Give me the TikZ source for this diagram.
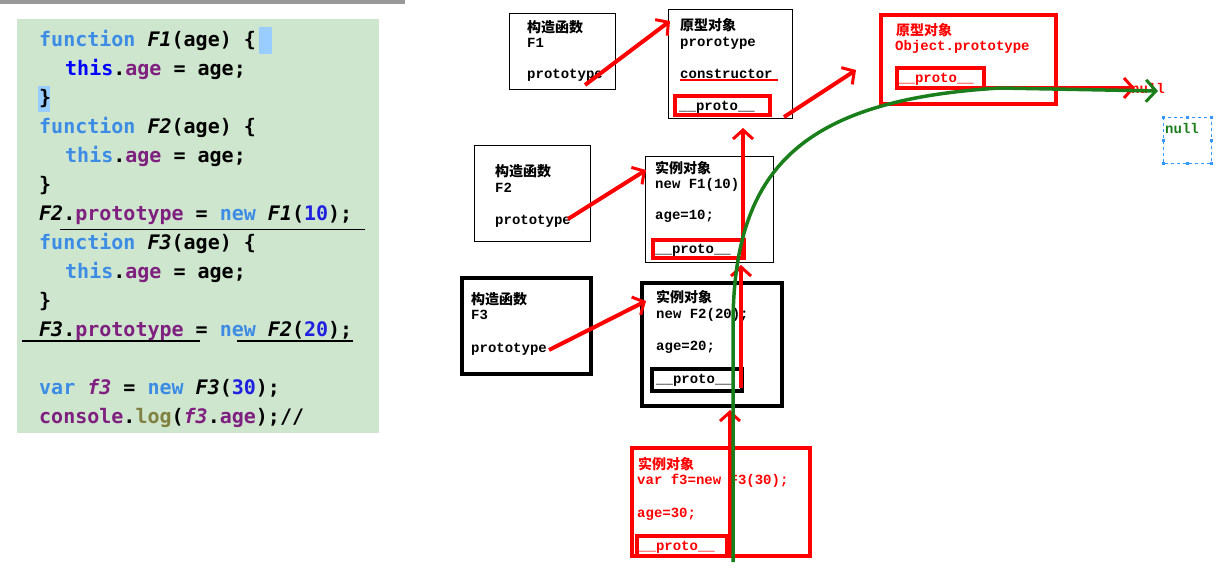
\documentclass[tikz,border=0pt]{standalone}
\usepackage{fontspec}
\setmonofont{DejaVu Sans Mono}
\newfontfamily\cjk{Noto Sans CJK SC}
\newfontfamily\lmono{Liberation Mono}
\usetikzlibrary{arrows.meta}
\definecolor{bgc}{HTML}{CDE6CD}
\definecolor{kw}{HTML}{3C8CE6}
\definecolor{pu}{HTML}{7F1F7F}
\definecolor{num}{HTML}{2020E0}
\definecolor{olv}{HTML}{808040}
\definecolor{grn}{HTML}{1A7F1A}
\definecolor{selb}{HTML}{3399FF}
\newcommand{\ckw}[1]{\textcolor{kw}{#1}}
\newcommand{\cpu}[1]{\textcolor{pu}{#1}}
\newcommand{\cnum}[1]{\textcolor{num}{#1}}
\begin{document}
\begin{tikzpicture}[x=1pt,y=-1pt,
  code/.style={anchor=base west,inner sep=0,font=\ttfamily\bfseries\fontsize{20}{20}\selectfont},
  cn/.style={anchor=base west,inner sep=0,font=\cjk\bfseries\fontsize{14}{14}\selectfont},
  mn/.style={anchor=base west,inner sep=0,font=\lmono\bfseries\fontsize{14}{14}\selectfont},
  thin box/.style={draw=black,line width=1pt},
  thick box/.style={draw=black,line width=3.5pt},
  red box/.style={draw=red,line width=3.5pt},
  rarr/.style={draw=red,line width=4pt,-{Straight Barb[length=9pt,width=20pt,line width=3pt]}},
  garr/.style={draw=grn,line width=3.5pt,-{Straight Barb[length=10pt,width=22pt,line width=3pt]}}]
\useasboundingbox (0,0) rectangle (1228,571);
\fill[white] (0,0) rectangle (1228,571);
\fill[black!40] (0,0) rectangle (405,4);
% code panel
\fill[bgc] (17,19) rectangle (379,433);
\fill[selb!50] (259,27) rectangle (272,54);
\fill[selb!50] (38,86) rectangle (50,112);
\node[code] (c1) at (39,46) {\ckw{function} \textit{F1}(age) \{};
\node[code] (c2) at (65,75) {\textcolor{blue}{this}.\cpu{age} = age;};
\node[code] (c3) at (39,104) {\}};
\node[code] (c4) at (39,133) {\ckw{function} \textit{F2}(age) \{};
\node[code] (c5) at (65,162) {\ckw{this}.\cpu{age} = age;};
\node[code] (c6) at (39,191) {\}};
\node[code] (c7) at (39,220) {\textit{F2}.\cpu{prototype} = \ckw{new} \textit{F1}(\cnum{10});};
\node[code] (c8) at (39,249) {\ckw{function} \textit{F3}(age) \{};
\node[code] (c9) at (65,278) {\ckw{this}.\cpu{age} = age;};
\node[code] (c10) at (39,307) {\}};
\node[code] (c11) at (39,336) {\textit{F3}.\cpu{prototype} = \ckw{new} \textit{F2}(\cnum{20});};
\node[code] (c12) at (39,394) {\ckw{var} \cpu{\textit{f3}} = \ckw{new} \textit{F3}(\cnum{30});};
\node[code] (c13) at (39,423) {\cpu{console}.\textcolor{olv}{log}(\cpu{\textit{f3}}.\cpu{age});//};
\draw[line width=1pt] (60,229) -- (365,229);
\draw[line width=2.5pt] (22,341) -- (200,341);
\draw[line width=2.5pt] (237,341) -- (353,341);
% boxes
\draw[thin box] (509,13) rectangle (615,89);
\node[cn] (a1) at (527,32) {构造函数};
\node[mn] at (527,47) {F1};
\node[mn] (p1) at (527,78) {prototype};
\draw[thin box] (668,9) rectangle (792,118);
\node[cn] (o1) at (680,30) {原型对象};
\node[mn] at (680,46) {prorotype};
\node[mn] at (680,78) {constructor};
\draw[red,line width=2.5pt] (680,80) -- (778,80);
\draw[red box] (675,96) rectangle (770,115);
\node[mn] (pp1) at (679,110) {\_\_proto\_\_};
\draw[thin box] (474,145) rectangle (590,241);
\node[cn] at (495,176) {构造函数};
\node[mn] at (495,192) {F2};
\node[mn] (p2) at (495,224) {prototype};
\draw[thin box] (645,156) rectangle (773,262);
\node[cn] (i1) at (655,173) {实例对象};
\node[mn] at (655,188) {new F1(10);};
\node[mn] at (655,219) {age=10;};
\draw[red box] (653,240) rectangle (744,258);
\node[mn] at (655,253) {\_\_proto\_\_};
\draw[thick box] (462,278) rectangle (591,374);
\node[cn] at (471,304) {构造函数};
\node[mn] at (471,319) {F3};
\node[mn] at (471,352) {prototype};
\draw[thick box] (642,283) rectangle (782,406);
\node[cn] at (656,302) {实例对象};
\node[mn] at (656,318) {new F2(20);};
\node[mn] at (656,350) {age=20;};
\draw[thick box] (652,369) rectangle (742,391);
\node[mn] at (656,383) {\_\_proto\_\_};
\draw[red box] (632,448) rectangle (810,556);
\node[cn,red] at (638,469) {实例对象};
\node[mn,red] at (637,484) {var f3=new F3(30);};
\node[mn,red] at (637,517) {age=30;};
\draw[red box] (637,536) rectangle (727,556);
\node[mn,red] at (639,550) {\_\_proto\_\_};
\draw[red box] (881,15) rectangle (1056,104);
\node[cn,red] at (896,35) {原型对象};
\node[mn,red] at (895,50) {Object.prototype};
\draw[red box] (897,68) rectangle (984,88);
\node[mn,red] at (898,82) {\_\_proto\_\_};
\node[mn,red] (nul) at (1131,93) {null};
\node[mn,grn] (nul2) at (1165,133) {null};
\draw[selb,dashed,line width=0.8pt] (1163,117) rectangle (1211,163);
\foreach \p in {(1163,117),(1187,117),(1211,117),(1163,140),(1211,140),(1163,163),(1187,163),(1211,163)}
  \fill[selb] \p ++(-1.5,-1.5) rectangle ++(3,3);
% red arrows
\draw[rarr] (585,85) -- (670,21);
\draw[rarr] (568,219) -- (646,170);
\draw[rarr] (549,350) -- (646,301);
\draw[rarr] (743,256) -- (743,128);
\draw[rarr] (741,388) -- (741,265);
\draw[rarr] (730,556) -- (730,410);
\draw[rarr] (784,117) -- (856,70);
\draw[rarr] (985,88) -- (1135,88);
% green curve
\draw[garr] (733,562) -- (733,320) .. controls (735,170) and (800,100) .. (1000,88) -- (1158,91);
\end{tikzpicture}
\end{document}
